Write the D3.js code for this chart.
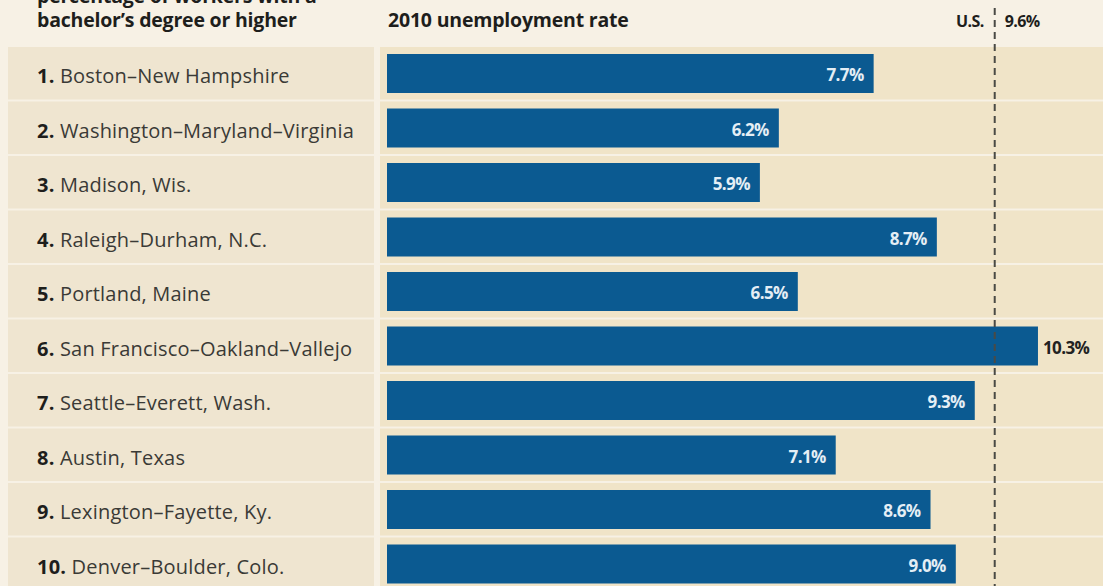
<!DOCTYPE html>
<html>
<head>
<meta charset="utf-8">
<script src="https://cdn.jsdelivr.net/npm/d3@7"></script>
<style>
  html, body { margin: 0; padding: 0; background: #f7f1e5; }
  svg { display: block; }
</style>
</head>
<body>
<svg id="chart" width="1103" height="586"></svg>
<script>
const ranks = [1, 2, 3, 4, 5, 6, 7, 8, 9, 10];
const categories = [
  "Boston–New Hampshire",
  "Washington–Maryland–Virginia",
  "Madison, Wis.",
  "Raleigh–Durham, N.C.",
  "Portland, Maine",
  "San Francisco–Oakland–Vallejo",
  "Seattle–Everett, Wash.",
  "Austin, Texas",
  "Lexington–Fayette, Ky.",
  "Denver–Boulder, Colo."
];
const values = [7.7, 6.2, 5.9, 8.7, 6.5, 10.3, 9.3, 7.1, 8.6, 9.0];
const usRate = 9.6;
const headerLeft = ["percentage of workers with a", "bachelor’s degree or higher"];
const headerRight = "2010 unemployment rate";
const usLabel = "U.S.";

const W = 1103, H = 586;
const svg = d3.select("#chart");
const font = "'Open Sans', 'DejaVu Sans', sans-serif";

const x = d3.scaleLinear().domain([0, 10]).range([387, 1019]);
const y = d3.scaleBand().domain(categories).range([47, 592]).padding(0);

// background
svg.append("rect").attr("width", W).attr("height", H).attr("fill", "#f7f1e5");

// row bands
const rows = svg.append("g");
rows.selectAll("rect.lb").data(categories).join("rect")
  .attr("x", 8).attr("y", d => y(d))
  .attr("width", 366).attr("height", y.bandwidth() - 2)
  .attr("fill", "#efe5d0");
rows.selectAll("rect.rb").data(categories).join("rect")
  .attr("x", 380).attr("y", d => y(d))
  .attr("width", W - 380).attr("height", y.bandwidth() - 2)
  .attr("fill", "#f0e4c8");

// bars
svg.append("g").selectAll("rect").data(categories).join("rect")
  .attr("x", x(0)).attr("y", d => y(d) + 7)
  .attr("width", (d, i) => x(values[i]) - x(0))
  .attr("height", 39)
  .attr("fill", "#0b5a91");

// US dashed line
svg.append("line")
  .attr("x1", x(usRate) + 1).attr("x2", x(usRate) + 1)
  .attr("y1", 8).attr("y2", H)
  .attr("stroke", "#4a4a45").attr("stroke-width", 2)
  .attr("stroke-dasharray", "7,5");

// value labels
svg.append("g").selectAll("text").data(categories).join("text")
  .attr("x", (d, i) => values[i] > usRate + 0.5 ? x(values[i]) + 5 : x(values[i]) - 10)
  .attr("y", d => y(d) + 34)
  .attr("text-anchor", (d, i) => values[i] > usRate + 0.5 ? "start" : "end")
  .attr("font-family", font).attr("font-weight", 700).attr("font-size", 17)
  .attr("letter-spacing", "-0.6")
  .attr("fill", (d, i) => values[i] > usRate + 0.5 ? "#222" : "#e4eef5")
  .text((d, i) => values[i].toFixed(1) + "%");

// category labels
const lab = svg.append("g").selectAll("text").data(categories).join("text")
  .attr("x", 37).attr("y", d => y(d) + 36)
  .attr("font-family", font).attr("font-size", 20)
  .attr("letter-spacing", "0.2")
  .attr("fill", "#3a3a36");
lab.append("tspan").attr("font-weight", 700).attr("fill", "#1e1e1c").text((d, i) => ranks[i] + ". ");
lab.append("tspan").text(d => d);

// headers
svg.append("g").selectAll("text").data(headerLeft).join("text")
  .attr("x", 37).attr("y", (d, i) => 3 + i * 24)
  .attr("font-family", font).attr("font-weight", 700).attr("font-size", 19.5)
  .attr("letter-spacing", "-0.2")
  .attr("fill", "#1e1e1c").text(d => d);
svg.append("text").attr("x", 388).attr("y", 27)
  .attr("font-family", font).attr("font-weight", 700).attr("font-size", 19.5)
  .attr("letter-spacing", "-0.2")
  .attr("fill", "#1e1e1c").text(headerRight);
svg.append("text").attr("x", x(usRate) - 10).attr("y", 27)
  .attr("text-anchor", "end")
  .attr("font-family", font).attr("font-weight", 700).attr("font-size", 16)
  .attr("letter-spacing", "-0.6")
  .attr("fill", "#1e1e1c").text(usLabel);
svg.append("text").attr("x", x(usRate) + 11).attr("y", 27)
  .attr("font-family", font).attr("font-weight", 700).attr("font-size", 16)
  .attr("letter-spacing", "-0.6")
  .attr("fill", "#1e1e1c").text(usRate.toFixed(1) + "%");
</script>
</body>
</html>
